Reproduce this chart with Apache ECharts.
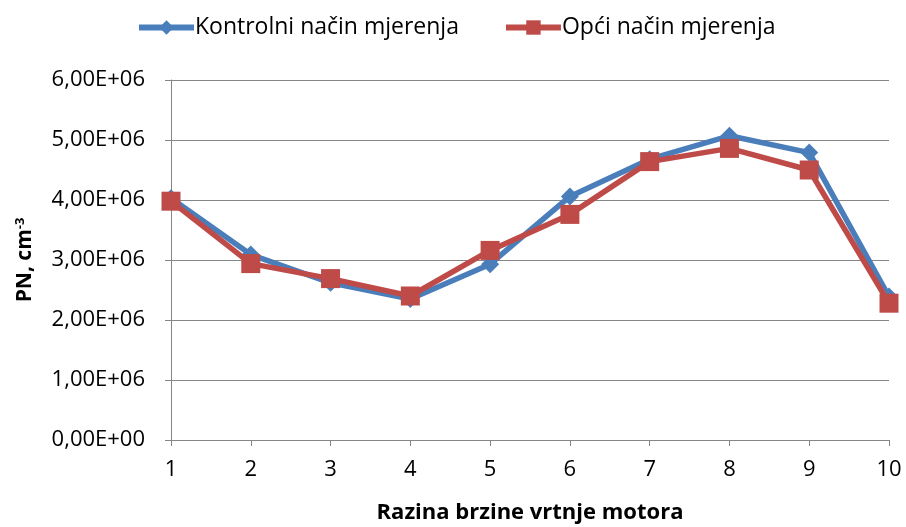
<!DOCTYPE html>
<html>
<head>
<meta charset="utf-8">
<script src="https://cdn.jsdelivr.net/npm/echarts@6/dist/echarts.min.js"></script>
<style>
  html, body { margin: 0; padding: 0; background: #ffffff; }
  #chart { width: 906px; height: 527px; }
</style>
</head>
<body>
<div id="chart"></div>
<script>
// Engine speed levels
const levels = ['1', '2', '3', '4', '5', '6', '7', '8', '9', '10'];
// Particle number concentration, cm^-3
const kontrolni = [4.03e6, 3.09e6, 2.62e6, 2.35e6, 2.93e6, 4.06e6, 4.68e6, 5.07e6, 4.79e6, 2.39e6];
const opci = [3.98e6, 2.94e6, 2.69e6, 2.40e6, 3.16e6, 3.76e6, 4.64e6, 4.86e6, 4.50e6, 2.28e6];
const seriesNames = ['Kontrolni način mjerenja', 'Opći način mjerenja'];

const FONT = 'Open Sans';
const AXIS_GRAY = '#868686';

function sci(v) {
  if (v === 0) return '0,00E+00';
  const e = Math.floor(Math.log10(v));
  const m = (v / Math.pow(10, e)).toFixed(2).replace('.', ',');
  return m + 'E+' + String(e).padStart(2, '0');
}

const chart = echarts.init(document.getElementById('chart'));
chart.setOption({
  animation: false,
  textStyle: { fontFamily: FONT },
  legend: {
    top: 11,
    left: 131,
    itemGap: 44,
    itemWidth: 55,
    itemHeight: 18,
    lineStyle: { width: 6 },
    textStyle: { fontFamily: FONT, fontSize: 23, color: '#000', padding: [0, 0, 0, -4] },
    data: seriesNames
  },
  grid: { left: 171, right: 17, top: 80, bottom: 87, containLabel: false, outerBoundsMode: 'none' },
  xAxis: {
    type: 'category',
    data: levels,
    boundaryGap: false,
    axisLine: { lineStyle: { color: AXIS_GRAY, width: 1 } },
    axisTick: { show: true, length: 6, inside: false, alignWithLabel: true, lineStyle: { color: AXIS_GRAY } },
    axisLabel: { fontFamily: FONT, fontSize: 22, color: '#000', margin: 19 },
    name: 'Razina brzine vrtnje motora',
    nameLocation: 'middle',
    nameGap: 62,
    nameTextStyle: { fontFamily: FONT, fontSize: 22, fontWeight: 'bold', color: '#000' }
  },
  yAxis: {
    type: 'value',
    min: 0,
    max: 6e6,
    interval: 1e6,
    axisLine: { show: true, lineStyle: { color: AXIS_GRAY, width: 1 } },
    axisTick: { show: true, length: 6, lineStyle: { color: AXIS_GRAY } },
    splitLine: { show: true, lineStyle: { color: AXIS_GRAY, width: 1 } },
    axisLabel: { fontFamily: FONT, fontSize: 22, color: '#000', margin: 26, formatter: sci },
    name: '{b|PN, cm}{s|-3}',
    nameLocation: 'middle',
    nameGap: 134,
    nameRotate: 90,
    nameTextStyle: {
      rich: {
        b: { fontFamily: FONT, fontSize: 21, fontWeight: 'bold', color: '#000' },
        s: { fontFamily: FONT, fontSize: 13, fontWeight: 'bold', color: '#000', verticalAlign: 'top', padding: [0, 0, 10, 0] }
      }
    }
  },
  series: [
    {
      name: seriesNames[0],
      type: 'line',
      data: kontrolni,
      symbol: 'diamond',
      symbolSize: 18,
      color: '#4a7ebb',
      lineStyle: { width: 5.5, color: '#4a7ebb' },
      itemStyle: { color: '#4a7ebb' },
      z: 2
    },
    {
      name: seriesNames[1],
      type: 'line',
      data: opci,
      symbol: 'rect',
      symbolSize: 19,
      color: '#be4b48',
      lineStyle: { width: 5.5, color: '#be4b48' },
      itemStyle: { color: '#be4b48' },
      z: 3
    }
  ]
});
</script>
</body>
</html>
